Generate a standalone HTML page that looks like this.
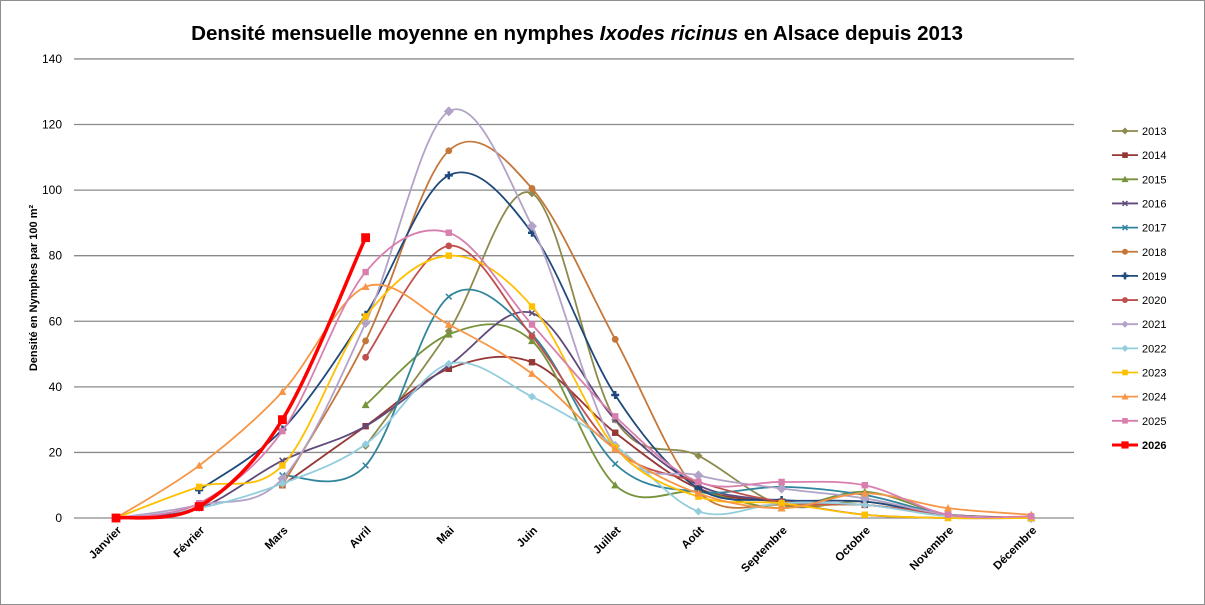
<!DOCTYPE html>
<html><head><meta charset="utf-8"><style>
body{margin:0;background:#fff;}
svg{display:block;font-family:"Liberation Sans",Arial,sans-serif;}
</style></head><body>
<svg id="c" width="1205" height="605" xmlns="http://www.w3.org/2000/svg">
<rect x="0.5" y="0.5" width="1204" height="604" fill="#fff" stroke="#8e8e8e"/>
<text x="577" y="40" text-anchor="middle" font-size="20.6" font-weight="bold">Densité mensuelle moyenne en nymphes <tspan font-style="italic">Ixodes ricinus</tspan> en Alsace depuis 2013</text>
<text transform="translate(37,288) rotate(-90)" text-anchor="middle" font-size="11" font-weight="bold">Densité en Nymphes par 100 m²</text>
<g id="grid"></g><g id="series"></g><g id="legend"></g>
</svg>
<script>
const NS="http://www.w3.org/2000/svg";
const svg=document.getElementById('c');
const X0=116,DX=83.2,Y0=518,K=3.279;
const g=document.getElementById('grid');
function el(t,a,p){const e=document.createElementNS(NS,t);for(const k in a)e.setAttribute(k,a[k]);(p||svg).appendChild(e);return e;}
for(let v=0;v<=140;v+=20){const y=Y0-v*K;el('line',{x1:74,x2:1074,y1:y,y2:y,stroke:'#8a8a8a','stroke-width':1.3},g);
const t=el('text',{x:62,y:y+4,'text-anchor':'end','font-size':12},g);t.textContent=v;}
const months=["Janvier","Février","Mars","Avril","Mai","Juin","Juillet","Août","Septembre","Octobre","Novembre","Décembre"];
months.forEach((m,i)=>{const x=X0+i*DX+6;const t=el('text',{transform:`translate(${x},531) rotate(-45)`,'text-anchor':'end','font-size':11.5,'font-weight':'bold'},g);t.textContent=m;});
const N=null;
const S=[
["2013","#8c8a4c","d",[N,N,N,22,57,99,30,19,4,5,1,0]],
["2014","#953735","s",[N,N,10,28,45.5,47.5,26,9,5,4,1,0]],
["2015","#77933c","t",[N,N,N,34.5,56,54,10,8,3,8,1,0]],
["2016","#604a7b","x",[0,3,17.5,28,46.5,62.5,30,10,5,1,0,0]],
["2017","#31859c","x",[N,N,13,16,67.5,56,16.5,8,9.5,7,1,0]],
["2018","#c4773a","c",[N,N,10,54,112,100.5,54.5,8,4,4,1,0]],
["2019","#1f497d","p",[N,8.5,27,62,104.5,87,37.5,9,5.5,5,1,0]],
["2020","#c0504d","c",[N,N,N,49,83,55.5,21,11,5,4,1,N]],
["2021","#b3a2c7","d",[0,4,12,59.5,124,89,22,13,9,6,1,0]],
["2022","#93cddd","d",[0,3,10.5,22.5,47,37,22,2,4.5,4,0.5,0]],
["2023","#ffc000","s",[0,9.5,16,61.5,80,64.5,21.5,6.5,4.5,1,0,0]],
["2024","#f79646","t",[0,16,38.5,70.5,59,44,21,7.5,3,7.5,3,1]],
["2025","#d87fae","s",[0,4.5,26.5,75,87,59,31,11,11,10,1,0.5]],
["2026","#ff0000","s",[0,3.5,30,85.5,N,N,N,N,N,N,N,N]]];
const sg=document.getElementById('series'),lg=document.getElementById('legend');
function marker(type,x,y,c,s,p){
 if(type=='d')el('path',{d:`M${x} ${y-s}L${x+s} ${y}L${x} ${y+s}L${x-s} ${y}Z`,fill:c},p);
 else if(type=='s')el('rect',{x:x-s*0.8,y:y-s*0.8,width:s*1.6,height:s*1.6,fill:c},p);
 else if(type=='t')el('path',{d:`M${x} ${y-s}L${x+s} ${y+s*0.8}L${x-s} ${y+s*0.8}Z`,fill:c},p);
 else if(type=='c')el('circle',{cx:x,cy:y,r:s*0.85,fill:c},p);
 else if(type=='x')el('path',{d:`M${x-s*.7} ${y-s*.7}L${x+s*.7} ${y+s*.7}M${x+s*.7} ${y-s*.7}L${x-s*.7} ${y+s*.7}`,stroke:c,'stroke-width':1.5},p);
 else if(type=='p'){el('path',{d:`M${x-s} ${y}L${x+s} ${y}M${x} ${y-s}L${x} ${y+s}`,stroke:c,'stroke-width':2.5},p);}
}
S.forEach((s,idx)=>{
 const [name,c,m,v]=s;const big=name=="2026";
 const pts=[];v.forEach((d,i)=>{if(d!==null)pts.push([X0+i*DX,Y0-d*K]);});
 let d=`M${pts[0][0]} ${pts[0][1]}`;
 for(let i=0;i<pts.length-1;i++){const p0=pts[i-1]||pts[i],p1=pts[i],p2=pts[i+1],p3=pts[i+2]||p2;
  const t=1/6;d+=`C${p1[0]+(p2[0]-p0[0])*t} ${p1[1]+(p2[1]-p0[1])*t} ${p2[0]-(p3[0]-p1[0])*t} ${p2[1]-(p3[1]-p1[1])*t} ${p2[0]} ${p2[1]}`;}
 el('path',{d,fill:'none',stroke:c,'stroke-width':big?3.5:1.8},sg);
 const sz=big?5.5:(m=='d'&&name=="2021"?5:4);
 pts.forEach(p=>marker(m,p[0],p[1],c,sz,sg));
 const ly=131+idx*24.15;
 el('line',{x1:1112,x2:1138,y1:ly,y2:ly,stroke:c,'stroke-width':big?3:1.8},lg);
 marker(m,1125,ly,c,big?4.5:3.5,lg);
 const t=el('text',{x:1142,y:ly+4,'font-size':11,'font-weight':big?'bold':'normal'},lg);t.textContent=name;
});
</script>
</body></html>
